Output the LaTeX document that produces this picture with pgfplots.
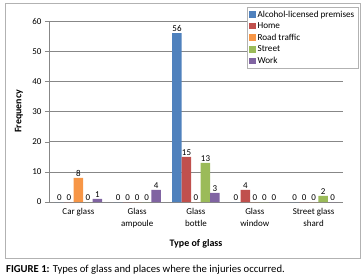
\documentclass[border=0pt]{standalone}
\usepackage{pgfplots}
\pgfplotsset{compat=1.18}
\usepackage{fontspec}
\setmainfont{Carlito}
\definecolor{cA}{HTML}{4F81BD}
\definecolor{cB}{HTML}{C0504D}
\definecolor{cC}{HTML}{F79646}
\definecolor{cD}{HTML}{9BBB59}
\definecolor{cE}{HTML}{8064A2}
\definecolor{gridc}{HTML}{878787}
\begin{document}
\begin{tikzpicture}[x=1bp,y=1bp]
\useasboundingbox (0,0) rectangle (364,-278);
\draw[gray!60, line width=0.8bp] (5,-3) rectangle (360,-258);
\begin{axis}[
  at={(49bp,-202bp)}, anchor=south west,
  scale only axis, width=294bp, height=181bp,
  xmin=-0.5, xmax=4.5, ymin=0, ymax=60,
  ytick={0,10,...,60},
  xtick={0,1,2,3,4},
  xticklabels={Car glass,{Glass\\ampoule},{Glass\\bottle},{Glass\\window},{Street glass\\shard}},
  xticklabel style={align=center, font=\fontsize{9}{12}\selectfont, yshift=1bp},
  yticklabel style={font=\fontsize{9}{10}\selectfont},
  x tick style={draw=none},
  y tick style={draw=gridc},
  tick align=outside, major tick length=4bp,
  /pgf/number format/assume math mode=true,
  axis x line*=bottom, axis y line*=left,
  axis line style={-, draw=gridc},
  ymajorgrids, grid style={draw=gridc, line width=0.5bp},
  ybar=0pt, bar width=9.5bp,
  nodes near coords,
  every node near coord/.append style={font=\fontsize{9}{10}\selectfont, inner sep=1pt, text=black},
  xlabel={\textbf{Type of glass}},
  ylabel={\textbf{Frequency}},
  xlabel style={font=\fontsize{10}{11}\selectfont, at={(axis description cs:0.5,-0.232)}, anchor=center},
  ylabel style={font=\fontsize{10}{11}\selectfont, at={(axis description cs:-0.102,0.5)}, anchor=center},
  legend style={at={(1.051,1.077)}, anchor=north east, draw=gray!60, fill=white,
    font=\fontsize{9.2}{10}\selectfont, cells={anchor=west}, inner sep=1.5bp, row sep=0bp},
  legend image code/.code={\fill[#1] (0bp,-3bp) rectangle (6.5bp,3.5bp);},
  legend cell align=left,
]
\addplot[fill=cA, draw=none] coordinates {(0,0) (1,0) (2,56) (3,0) (4,0)};
\addplot[fill=cB, draw=none] coordinates {(0,0) (1,0) (2,15) (3,4) (4,0)};
\addplot[fill=cC, draw=none] coordinates {(0,8) (1,0) (2,0) (3,0) (4,0)};
\addplot[fill=cD, draw=none] coordinates {(0,0) (1,0) (2,13) (3,0) (4,2)};
\addplot[fill=cE, draw=none] coordinates {(0,1) (1,4) (2,3) (3,0) (4,0)};
\legend{Alcohol-licensed premises,Home,Road traffic,Street,Work}
\end{axis}
\node[anchor=west, inner sep=0, font=\fontsize{10.7}{12}\selectfont] at (6,-270) {\textbf{FIGURE 1:} Types of glass and places where the injuries occurred.};
\end{tikzpicture}
\end{document}
